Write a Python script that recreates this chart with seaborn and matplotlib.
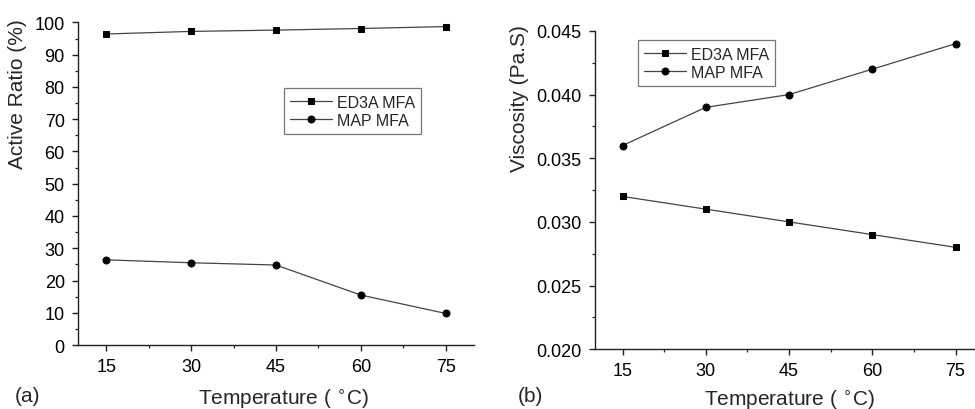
import matplotlib
matplotlib.use("Agg")
import matplotlib.pyplot as plt
from matplotlib.ticker import MultipleLocator, FormatStrFormatter
import pandas as pd
import seaborn as sns

# Measured values
temperature = [15, 30, 45, 60, 75]
active_ed3a = [96.4, 97.2, 97.6, 98.1, 98.7]
active_map = [26.4, 25.5, 24.8, 15.5, 9.8]
visc_ed3a = [0.032, 0.031, 0.030, 0.029, 0.028]
visc_map = [0.036, 0.039, 0.040, 0.042, 0.044]
series_names = ["ED3A MFA", "MAP MFA"]

sns.set_style("ticks")
plt.rcParams["font.family"] = ["Liberation Sans", "DejaVu Sans"]
plt.rcParams["axes.edgecolor"] = "#222222"
plt.rcParams["xtick.color"] = "#222222"
plt.rcParams["ytick.color"] = "#222222"
plt.rcParams["xtick.labelcolor"] = "black"
plt.rcParams["ytick.labelcolor"] = "black"

fig = plt.figure(figsize=(9.75, 4.10), dpi=100)
ax_a = fig.add_axes([0.080, 0.156, 0.406, 0.787])
ax_b = fig.add_axes([0.610, 0.146, 0.3985, 0.776])

line_color = "#444444"


def draw(ax, ed3a, mapv):
    df = pd.DataFrame({"T": temperature, "ed3a": ed3a, "map": mapv})
    sns.lineplot(data=df, x="T", y="ed3a", ax=ax, color=line_color, lw=0.9,
                 marker="s", markersize=4.6, markerfacecolor="black",
                 markeredgecolor="black", label=series_names[0])
    sns.lineplot(data=df, x="T", y="map", ax=ax, color=line_color, lw=0.9,
                 marker="o", markersize=5.0, markerfacecolor="black",
                 markeredgecolor="black", label=series_names[1])
    ax.set_xlim(10, 80)
    ax.xaxis.set_major_locator(MultipleLocator(15))
    ax.xaxis.set_minor_locator(MultipleLocator(7.5))
    sns.despine(ax=ax)
    for s in ("left", "bottom"):
        ax.spines[s].set_linewidth(1.0)
    ax.tick_params(which="major", direction="out", length=4.5, width=1.0,
                   labelsize=13, pad=5)
    ax.tick_params(which="minor", direction="out", length=2.5, width=0.9)
    leg = ax.legend(fontsize=11.5, frameon=True, fancybox=False,
                    edgecolor="#555555", handlelength=2.6, labelspacing=0.2,
                    handletextpad=0.3, borderpad=0.4, borderaxespad=0,
                    loc="upper left")
    leg.get_frame().set_linewidth(0.9)
    return leg


# Panel (a): active ratio
leg_a = draw(ax_a, active_ed3a, active_map)
ax_a.set_ylim(0, 100)
ax_a.yaxis.set_major_locator(MultipleLocator(10))
ax_a.yaxis.set_minor_locator(MultipleLocator(5))
leg_a.set_bbox_to_anchor((0.52, 0.796), transform=ax_a.transAxes)
ax_a.set_ylabel("Active Ratio (%)", fontsize=15)
ax_a.set_xlabel("Temperature ( $^{\\circ}$C)", fontsize=15)
ax_a.yaxis.set_label_coords(-0.128, 0.78)
ax_a.xaxis.set_label_coords(0.518, -0.13)

# Panel (b): viscosity
leg_b = draw(ax_b, visc_ed3a, visc_map)
ax_b.set_ylim(0.020, 0.045)
ax_b.yaxis.set_major_locator(MultipleLocator(0.005))
ax_b.yaxis.set_minor_locator(MultipleLocator(0.0025))
ax_b.yaxis.set_major_formatter(FormatStrFormatter("%.3f"))
leg_b.set_bbox_to_anchor((0.111, 0.971), transform=ax_b.transAxes)
ax_b.set_ylabel("Viscosity (Pa.S)", fontsize=15)
ax_b.set_xlabel("Temperature ( $^{\\circ}$C)", fontsize=15)
ax_b.yaxis.set_label_coords(-0.168, 0.79)
ax_b.xaxis.set_label_coords(0.502, -0.12)

fig.text(0.0155, 0.01, "(a)", fontsize=15, va="bottom", ha="left")
fig.text(0.531, 0.01, "(b)", fontsize=15, va="bottom", ha="left")

fig.savefig("out.png", dpi=100)
